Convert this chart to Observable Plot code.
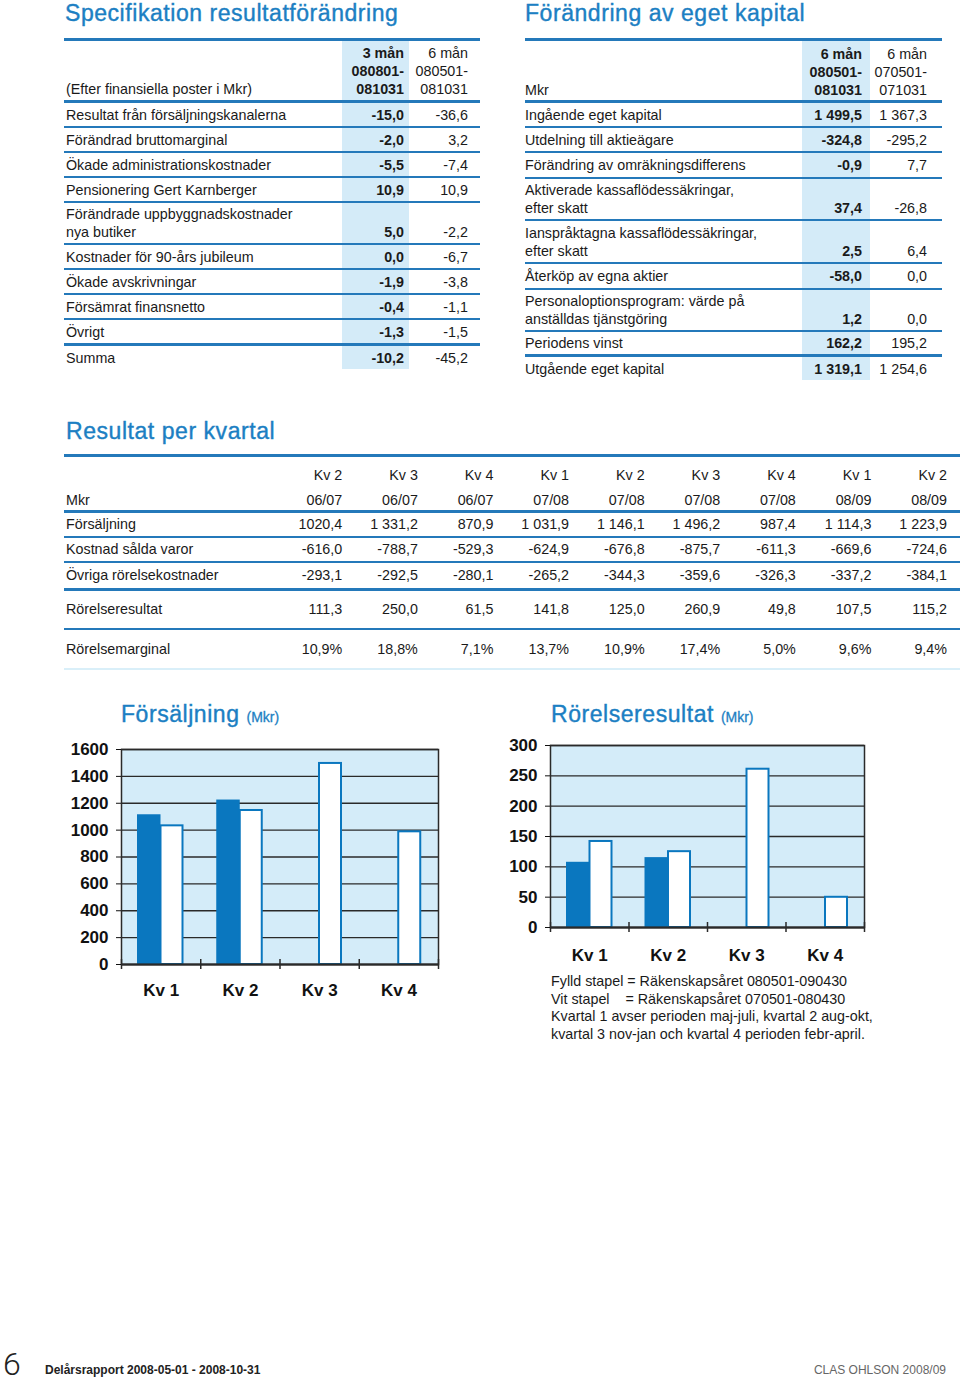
<!DOCTYPE html>
<html>
<head>
<meta charset="utf-8">
<script src="https://cdn.jsdelivr.net/npm/d3@7"></script>
<script src="https://cdn.jsdelivr.net/npm/@observablehq/plot@0.6"></script>
<style>
  body { margin: 0; background: #fff; }
  #page { position: relative; width: 960px; height: 1383px; overflow: hidden; background: #fff;
          font-family: "Liberation Sans", Arial, Helvetica, sans-serif; color: #1a1a1a; }
  .title { position: absolute; font-size: 23px; line-height: 20px; letter-spacing: 0.55px; color: #1c7fc3;
           white-space: nowrap; -webkit-text-stroke: 0.4px #1c7fc3; }
  .title .unit { font-size: 14px; letter-spacing: 0; -webkit-text-stroke: 0.3px #1c7fc3; }
  .tbl { position: absolute; font-size: 14.3px; }
  .row { display: flex; box-sizing: border-box; }
  .cell { display: flex; flex-direction: column; justify-content: flex-end; box-sizing: border-box;
          height: 100%; white-space: pre; }
  .chart { position: absolute; }
  .caption { position: absolute; font-size: 14.3px; line-height: 17.6px; white-space: pre; color: #1a1a1a; }
  .foot { position: absolute; white-space: nowrap; }
</style>
</head>
<body>
<div id="page"></div>
<script>
// ---------------- DATA ----------------
// Specifikation resultatförändring
const specHeadLabel = "(Efter finansiella poster i Mkr)";
const specColHeads = ["3 mån\n080801-\n081031", "6 mån\n080501-\n081031"];
const specLabels = ["Resultat från försäljningskanalerna", "Förändrad bruttomarginal",
  "Ökade administrationskostnader", "Pensionering Gert Karnberger",
  "Förändrade uppbyggnadskostnader\nnya butiker", "Kostnader för 90-års jubileum",
  "Ökade avskrivningar", "Försämrat finansnetto", "Övrigt", "Summa"];
const spec3m = ["-15,0", "-2,0", "-5,5", "10,9", "5,0", "0,0", "-1,9", "-0,4", "-1,3", "-10,2"];
const spec6m = ["-36,6", "3,2", "-7,4", "10,9", "-2,2", "-6,7", "-3,8", "-1,1", "-1,5", "-45,2"];

// Förändring av eget kapital
const eqHeadLabel = "Mkr";
const eqColHeads = ["6 mån\n080501-\n081031", "6 mån\n070501-\n071031"];
const eqLabels = ["Ingående eget kapital", "Utdelning till aktieägare",
  "Förändring av omräkningsdifferens", "Aktiverade kassaflödessäkringar,\nefter skatt",
  "Ianspråktagna kassaflödessäkringar,\nefter skatt", "Återköp av egna aktier",
  "Personaloptionsprogram: värde på\nanställdas tjänstgöring", "Periodens vinst", "Utgående eget kapital"];
const eqCurrent = ["1 499,5", "-324,8", "-0,9", "37,4", "2,5", "-58,0", "1,2", "162,2", "1 319,1"];
const eqPrevious = ["1 367,3", "-295,2", "7,7", "-26,8", "6,4", "0,0", "0,0", "195,2", "1 254,6"];

// Resultat per kvartal
const qHeadLabel = "Mkr";
const qQuarters = ["Kv 2", "Kv 3", "Kv 4", "Kv 1", "Kv 2", "Kv 3", "Kv 4", "Kv 1", "Kv 2"];
const qYears = ["06/07", "06/07", "06/07", "07/08", "07/08", "07/08", "07/08", "08/09", "08/09"];
const qRowLabels = ["Försäljning", "Kostnad sålda varor", "Övriga rörelsekostnader", "Rörelseresultat", "Rörelsemarginal"];
const qSales = ["1020,4", "1 331,2", "870,9", "1 031,9", "1 146,1", "1 496,2", "987,4", "1 114,3", "1 223,9"];
const qCogs = ["-616,0", "-788,7", "-529,3", "-624,9", "-676,8", "-875,7", "-611,3", "-669,6", "-724,6"];
const qOpex = ["-293,1", "-292,5", "-280,1", "-265,2", "-344,3", "-359,6", "-326,3", "-337,2", "-384,1"];
const qEbit = ["111,3", "250,0", "61,5", "141,8", "125,0", "260,9", "49,8", "107,5", "115,2"];
const qMargin = ["10,9%", "18,8%", "7,1%", "13,7%", "10,9%", "17,4%", "5,0%", "9,6%", "9,4%"];

// Charts
const chartQuarters = ["Kv 1", "Kv 2", "Kv 3", "Kv 4"];
const salesCurrent = [1114.3, 1223.9];                 // 2008/09 (fylld stapel)
const salesPrevious = [1031.9, 1146.1, 1496.2, 987.4]; // 2007/08 (vit stapel)
const salesTicks = [0, 200, 400, 600, 800, 1000, 1200, 1400, 1600];
const ebitCurrent = [107.5, 115.2];
const ebitPrevious = [141.8, 125.0, 260.9, 49.8];
const ebitTicks = [0, 50, 100, 150, 200, 250, 300];

const captionLines = [
  "Fylld stapel = Räkenskapsåret 080501-090430",
  "Vit stapel    = Räkenskapsåret 070501-080430",
  "Kvartal 1 avser perioden maj-juli, kvartal 2 aug-okt,",
  "kvartal 3 nov-jan och kvartal 4 perioden febr-april."
];

// ---------------- STYLE ----------------
const FONT = '"Liberation Sans", Arial, Helvetica, sans-serif';
const LINE = "#2479ba";
const SHADE = "#d4ebf8";
const BAR = "#0a77bf";
const CHART_BG = "#d4ecf9";
const GRID = "#2a2a2a";

const page = document.getElementById("page");
function el(tag, cls) { const e = document.createElement(tag); if (cls) e.className = cls; return e; }

function addTitle(html, left, top) {
  const t = el("div", "title");
  t.innerHTML = html;
  t.style.left = left + "px"; t.style.top = top + "px";
  page.appendChild(t);
}

function addTable(o) {
  const t = el("div", "tbl");
  t.style.left = o.left + "px"; t.style.top = o.top + "px"; t.style.width = o.width + "px";
  if (o.padRight) { t.style.paddingRight = o.padRight + "px"; t.style.boxSizing = "border-box"; }
  for (const it of o.items) {
    if (it.line != null) {
      const l = el("div");
      l.style.height = it.line + "px";
      l.style.background = it.color || LINE;
      l.style.marginRight = o.padRight ? -o.padRight + "px" : "0";
      t.appendChild(l);
      continue;
    }
    const r = el("div", "row");
    r.style.height = it.h + "px";
    const lh = it.lh || 18;
    const maxLines = Math.max(...it.cells.map(s => s.split("\n").length));
    const pb = maxLines > 1 ? (it.pb != null ? it.pb : 2.5) : (it.h - lh) / 2;
    it.cells.forEach((txt, ci) => {
      const c = o.cols[ci];
      const d = el("div", "cell");
      const inner = el("div");
      inner.textContent = txt;
      if (it.shift) inner.style.transform = `translateY(${it.shift}px)`;
      d.appendChild(inner);
      if (c.w == null) d.style.flex = "1"; else d.style.width = c.w + "px";
      d.style.paddingLeft = (c.pl || 0) + "px";
      d.style.paddingRight = (c.pr || 0) + "px";
      d.style.paddingBottom = pb + "px";
      d.style.lineHeight = lh + "px";
      d.style.textAlign = c.align || "left";
      d.style.fontWeight = c.bold ? "bold" : "normal";
      if (c.shade) d.style.background = SHADE;
      r.appendChild(d);
    });
    t.appendChild(r);
  }
  page.appendChild(t);
}

// ---------- Table 1: Specifikation resultatförändring ----------
addTitle("Specifikation resultatförändring", 65, 3);
{
  const heights = specLabels.map(s => s.includes("\n") ? 40 : 23);
  const items = [{line: 3}, {h: 59, cells: [specHeadLabel, ...specColHeads]}, {line: 3}];
  specLabels.forEach((lab, i) => {
    items.push({h: heights[i], cells: [lab, spec3m[i], spec6m[i]]});
    if (i < specLabels.length - 2) items.push({line: 2});
    else if (i === specLabels.length - 2) items.push({line: 3});
  });
  addTable({
    left: 64, top: 38, width: 416, items,
    cols: [{pl: 2}, {w: 67, pr: 5, align: "right", bold: true, shade: true}, {w: 71, pr: 12, align: "right"}]
  });
}

// ---------- Table 2: Förändring av eget kapital ----------
addTitle("Förändring av eget kapital", 525, 3);
{
  const singleH = [23, 23, 24, null, null, 24, null, 22, 23];
  const doubleH = [null, null, null, 40, 41, null, 40, null, null];
  const items = [{line: 3}, {h: 59, pb: 1.5, cells: [eqHeadLabel, ...eqColHeads]}, {line: 3}];
  eqLabels.forEach((lab, i) => {
    items.push({h: singleH[i] || doubleH[i], cells: [lab, eqCurrent[i], eqPrevious[i]]});
    if (i < eqLabels.length - 2) items.push({line: 2});
    else if (i === eqLabels.length - 2) items.push({line: 3});
  });
  addTable({
    left: 525, top: 38, width: 417, items,
    cols: [{pl: 0}, {w: 68, pr: 8, align: "right", bold: true, shade: true}, {w: 72, pr: 15, align: "right"}]
  });
}

// ---------- Table 3: Resultat per kvartal ----------
addTitle("Resultat per kvartal", 66, 421);
{
  const rows = [qSales, qCogs, qOpex, qEbit, qMargin];
  const rowH = [23, 23, 25, 37, 38];
  const lineAfter = [2, 2, 3, 2, null];
  const items = [{line: 3}, {h: 53, lh: 25, pb: 0, shift: 2.5,
    cells: [qHeadLabel, ...qQuarters.map((q, i) => q + "\n" + qYears[i])]}, {line: 3}];
  rows.forEach((vals, i) => {
    items.push({h: rowH[i], cells: [qRowLabels[i], ...vals]});
    if (lineAfter[i]) items.push({line: lineAfter[i]});
  });
  items.push({line: 2, color: "#d9eff9"});
  const cols = [{pl: 2}];
  qQuarters.forEach(() => cols.push({w: 75.6, align: "right"}));
  addTable({left: 64, top: 453.5, width: 896, padRight: 13, items, cols});
}

// ---------- Charts ----------
function barChart({cur, prev, ticks, max, width, height, mL, mR, mT, mB, labelPad}) {
  const curData = cur.map((v, i) => ({i, v}));
  const prevData = prev.map((v, i) => ({i, v}));
  const bw = (width - mL - mR) / chartQuarters.length;
  return Plot.plot({
    width, height, marginLeft: mL, marginRight: mR, marginTop: mT, marginBottom: mB,
    style: {fontFamily: FONT, fontSize: "17px", color: "#111", background: "transparent", overflow: "visible"},
    x: {type: "linear", domain: [0, chartQuarters.length], label: null},
    y: {domain: [0, max], label: null},
    marks: [
      Plot.frame({fill: CHART_BG, stroke: "none"}),
      Plot.ruleY(ticks, {stroke: GRID, strokeWidth: 1.3}),
      Plot.rect(curData, {x1: "i", x2: d => d.i + 1, y1: 0, y2: "v", fill: BAR,
        insetLeft: 16, insetRight: bw - 39.5}),
      Plot.rect(prevData, {x1: "i", x2: d => d.i + 1, y1: 0, y2: "v", fill: "white",
        stroke: BAR, strokeWidth: 2, insetLeft: 39.5, insetRight: bw - 61.5}),
      Plot.ruleY([0], {stroke: GRID, strokeWidth: 2}),
      Plot.ruleX(d3.range(chartQuarters.length + 1), {y1: 0, y2: 0, insetTop: -5, insetBottom: -5,
        stroke: GRID, strokeWidth: 1.5}),
      Plot.frame({stroke: GRID, strokeWidth: 1.5, fill: "none"}),
      Plot.axisY(ticks, {tickSize: 5, tickPadding: 8, tickFormat: d3.format("d"),
        fontWeight: "bold", fontSize: 17, color: "#111", label: null}),
      Plot.axisX(chartQuarters.map((q, i) => i + 0.5), {tickSize: 0, tickPadding: labelPad,
        tickFormat: d => chartQuarters[Math.floor(d)], fontWeight: "bold", fontSize: 17,
        color: "#111", label: null})
    ]
  });
}

addTitle('Försäljning <span class="unit">(Mkr)</span>', 121, 704);
{
  const d = el("div", "chart");
  d.style.left = "60px"; d.style.top = "735px";
  d.appendChild(barChart({cur: salesCurrent, prev: salesPrevious, ticks: salesTicks, max: 1600,
    width: 400, height: 269, mL: 61, mR: 22, mT: 14, mB: 40, labelPad: 19}));
  page.appendChild(d);
}

addTitle('Rörelseresultat <span class="unit">(Mkr)</span>', 551, 704);
{
  const d = el("div", "chart");
  d.style.left = "495px"; d.style.top = "733px";
  d.appendChild(barChart({cur: ebitCurrent, prev: ebitPrevious, ticks: ebitTicks, max: 300,
    width: 389, height: 232, mL: 55, mR: 20, mT: 12, mB: 38, labelPad: 21}));
  page.appendChild(d);
}

{
  const c = el("div", "caption");
  c.style.left = "551px"; c.style.top = "973px";
  c.textContent = captionLines.join("\n");
  page.appendChild(c);
}

// ---------- Footer ----------
{
  const n = el("div", "foot");
  n.textContent = "6";
  Object.assign(n.style, {left: "3px", top: "1351px", fontFamily: "Roboto, sans-serif", fontWeight: "300",
    fontSize: "32px", lineHeight: "26px", color: "#222"});
  page.appendChild(n);
  const a = el("div", "foot");
  a.textContent = "Delårsrapport 2008-05-01 - 2008-10-31";
  Object.assign(a.style, {left: "45px", top: "1364px", fontWeight: "bold", fontSize: "12px", lineHeight: "12px", color: "#222"});
  page.appendChild(a);
  const b = el("div", "foot");
  b.textContent = "CLAS OHLSON 2008/09";
  Object.assign(b.style, {right: "14px", top: "1364px", fontSize: "12px", lineHeight: "12px", color: "#666"});
  page.appendChild(b);
}
</script>
</body>
</html>
